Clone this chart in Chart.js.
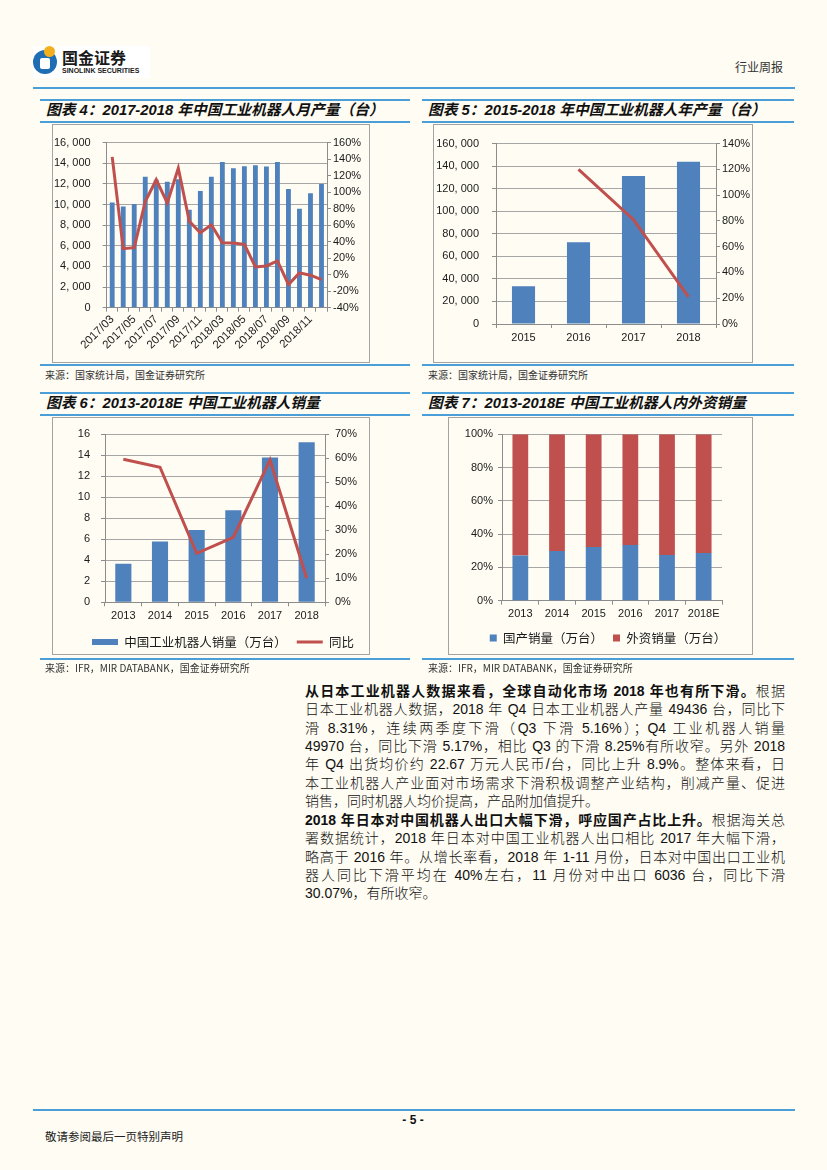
<!DOCTYPE html>
<html><head><meta charset="utf-8">
<script src="https://cdn.jsdelivr.net/npm/chart.js@4.4.0/dist/chart.umd.min.js"></script>
<style>
html,body{margin:0;padding:0;}
body{width:827px;height:1170px;background:#fefcf3;position:relative;overflow:hidden;font-family:'Liberation Sans','Noto Sans CJK SC',sans-serif;color:#111;}
.abs{position:absolute;}
.hl{position:absolute;height:2px;background:#4a9fd8;}
.title{position:absolute;font-family:'Liberation Sans','Noto Sans CJK SC',sans-serif;font-weight:bold;font-style:italic;font-size:14.75px;line-height:18px;white-space:nowrap;color:#111;}
.box{position:absolute;border:1px solid #a3a3a3;box-sizing:border-box;}
.src{position:absolute;font-size:10px;line-height:12px;color:#333;white-space:nowrap;font-family:'Noto Sans CJK SC',sans-serif;}
canvas{position:absolute;}
.ln{position:absolute;left:305px;width:480px;font-size:14px;line-height:18px;height:18px;text-align:justify;text-align-last:justify;font-family:'Liberation Sans','Noto Sans CJK SC',sans-serif;font-weight:300;color:#111;}
.ln.last{text-align-last:left;}
.ln b{font-weight:bold;}
</style></head>
<body>
<!-- header -->
<div class="abs" style="left:33px;top:46px;width:117px;height:32px;background:#fff;"></div>
<div class="abs" style="left:33px;top:50px;width:24px;height:24px;border-radius:50%;background:#1f6db3;"></div>
<div class="abs" style="left:40px;top:58px;width:10px;height:11px;border-radius:2px;background:#fff;"></div>
<div class="abs" style="left:44px;top:46px;width:11px;height:11px;border-radius:50%;background:#f2b01e;"></div>
<div class="abs" style="left:62px;top:48px;font-size:16px;line-height:18px;font-weight:bold;font-family:'Noto Sans CJK SC';color:#1a1a1a;">国金证券</div>
<div class="abs" style="left:62px;top:67px;font-size:7px;line-height:8px;font-weight:bold;color:#1a1a1a;">SINOLINK SECURITIES</div>
<div class="abs" style="left:735px;top:59px;font-size:12px;line-height:16px;font-family:'Noto Sans CJK SC';color:#333;">行业周报</div>
<div class="hl" style="left:33px;top:87px;width:762px;"></div>

<!-- row 1 titles -->
<div class="hl" style="left:40px;top:99px;width:370px;"></div>
<div class="hl" style="left:40px;top:121px;width:370px;"></div>
<div class="title" style="left:46px;top:101px;">图表 4：2017-2018 年中国工业机器人月产量（台）</div>
<div class="hl" style="left:422px;top:99px;width:372px;"></div>
<div class="hl" style="left:422px;top:121px;width:372px;"></div>
<div class="title" style="left:428px;top:101px;">图表 5：2015-2018 年中国工业机器人年产量（台）</div>

<div class="box" style="left:52px;top:124px;width:318px;height:239px;"></div>
<div class="box" style="left:433px;top:124px;width:320px;height:239px;"></div>
<canvas id="c4" width="318" height="239" style="left:52px;top:124px;"></canvas>
<canvas id="c5" width="320" height="239" style="left:433px;top:124px;"></canvas>

<div class="hl" style="left:40px;top:364px;width:370px;"></div>
<div class="hl" style="left:422px;top:364px;width:372px;"></div>
<div class="src" style="left:45px;top:369px;">来源：国家统计局，国金证券研究所</div>
<div class="src" style="left:428px;top:369px;">来源：国家统计局，国金证券研究所</div>

<!-- row 2 titles -->
<div class="hl" style="left:40px;top:392px;width:370px;"></div>
<div class="hl" style="left:40px;top:414px;width:370px;"></div>
<div class="title" style="left:46px;top:394px;">图表 6：2013-2018E 中国工业机器人销量</div>
<div class="hl" style="left:422px;top:392px;width:372px;"></div>
<div class="hl" style="left:422px;top:414px;width:372px;"></div>
<div class="title" style="left:428px;top:394px;">图表 7：2013-2018E 中国工业机器人内外资销量</div>

<div class="box" style="left:52px;top:417px;width:318px;height:238px;"></div>
<div class="box" style="left:448px;top:417px;width:305px;height:238px;"></div>
<canvas id="c6" width="318" height="250" style="left:52px;top:416px;"></canvas>
<canvas id="c7" width="305" height="250" style="left:448px;top:416px;"></canvas>

<div class="hl" style="left:40px;top:658px;width:370px;"></div>
<div class="hl" style="left:422px;top:658px;width:372px;"></div>
<div class="src" style="left:45px;top:662px;">来源：IFR，MIR DATABANK，国金证券研究所</div>
<div class="src" style="left:428px;top:662px;">来源：IFR，MIR DATABANK，国金证券研究所</div>

<!-- body text -->
<div class="ln" style="top:682px;"><b>从日本工业机器人数据来看，全球自动化市场 2018 年也有所下滑。</b>根据</div>
<div class="ln" style="top:700.3px;">日本工业机器人数据，2018 年 Q4 日本工业机器人产量 49436 台，同比下</div>
<div class="ln" style="top:718.6px;">滑 8.31%，连续两季度下滑（Q3 下滑 5.16%）；Q4 工业机器人销量</div>
<div class="ln" style="top:736.9px;">49970 台，同比下滑 5.17%，相比 Q3 的下滑 8.25%有所收窄。另外 2018</div>
<div class="ln" style="top:755.2px;">年 Q4 出货均价约 22.67 万元人民币/台，同比上升 8.9%。整体来看，日</div>
<div class="ln" style="top:773.5px;">本工业机器人产业面对市场需求下滑积极调整产业结构，削减产量、促进</div>
<div class="ln last" style="top:791.8px;">销售，同时机器人均价提高，产品附加值提升。</div>

<div class="ln" style="top:811px;"><b>2018 年日本对中国机器人出口大幅下滑，呼应国产占比上升。</b>根据海关总</div>
<div class="ln" style="top:829.3px;">署数据统计，2018 年日本对中国工业机器人出口相比 2017 年大幅下滑，</div>
<div class="ln" style="top:847.6px;">略高于 2016 年。从增长率看，2018 年 1-11 月份，日本对中国出口工业机</div>
<div class="ln" style="top:865.9px;">器人同比下滑平均在 40%左右，11 月份对中出口 6036 台，同比下滑</div>
<div class="ln last" style="top:884.2px;">30.07%，有所收窄。</div>

<!-- footer -->
<div class="hl" style="left:33px;top:1109px;width:762px;"></div>
<div class="abs" style="left:383px;top:1113px;width:60px;text-align:center;font-size:12px;line-height:14px;font-weight:bold;">- 5 -</div>
<div class="abs" style="left:45px;top:1129px;font-size:11.5px;line-height:14px;font-family:'Noto Sans CJK SC';color:#222;">敬请参阅最后一页特别声明</div>

<script>
// ---------- data ----------
const monthLabels = ['2017/03','2017/04','2017/05','2017/06','2017/07','2017/08','2017/09','2017/10','2017/11','2017/12',
                     '2018/03','2018/04','2018/05','2018/06','2018/07','2018/08','2018/09','2018/10','2018/11','2018/12'];
const monthOutput = [10200, 9800, 10060, 12690, 12400, 12200, 12450, 9500, 11300, 12690,
                     14130, 13520, 13710, 13810, 13690, 14130, 11500, 9600, 11080, 11980];
const monthYoY = [142.7, 31.5, 32.7, 88.5, 115, 86.9, 129, 64.8, 50.8, 60.4,
                  38.7, 38.3, 36.7, 9.4, 10.6, 16.6, -11.9, 2.2, -0.6, -5.9];

const yearLabels5 = ['2015','2016','2017','2018'];
const yearOutput = [33500, 72600, 131300, 143800];
const yearYoY = [null, 120, 81, 21];

const yearLabels6 = ['2013','2014','2015','2016','2017','2018'];
const salesVolume = [3.68, 5.78, 6.89, 8.76, 13.78, 15.24];
const salesYoY = [59.6, 56.3, 20.4, 27.1, 59.3, 10.0];

const yearLabels7 = ['2013','2014','2015','2016','2017','2018E'];
const domesticShare = [27.1, 29.9, 32.3, 33.5, 27.5, 28.7];
const foreignShare = [72.9, 70.1, 67.7, 66.5, 72.5, 71.3];

// ---------- styles ----------
const BLUE = '#4f81bd', RED = '#c0504d', GRID = '#a6a6a6', AXIS = '#8c8c8c', TXT = '#1a1a1a';
const FONT = "'Liberation Sans','Noto Sans CJK SC',sans-serif";
const CJK = "'Noto Sans CJK SC','Liberation Sans',sans-serif";
Chart.defaults.animation = false;
Chart.defaults.font.family = FONT;
Chart.defaults.color = TXT;
const tf = {family: FONT, size: 11};
const fixW = w => s => { s.width = w; };
const fixH = h => s => { s.height = h; };
const comma = v => Number(v).toLocaleString('en-US').replace(/,/g, ', ');
const pct = v => v + '%';

function xAxis(h, extraTicks) {
  return {
    grid: {drawOnChartArea: false, drawTicks: true, tickLength: 4, color: AXIS, offset: true},
    border: {color: AXIS},
    ticks: Object.assign({font: tf, color: TXT, padding: 3, autoSkip: false, maxRotation: 0, minRotation: 0}, extraTicks || {}),
    afterFit: fixH(h)
  };
}
function leftAxis(min, max, step, cb, w, pad) {
  return {
    position: 'left', min, max,
    ticks: {stepSize: step, callback: cb, font: tf, color: TXT, padding: pad},
    grid: {color: GRID, tickLength: 4, drawTicks: true, tickColor: AXIS},
    border: {color: AXIS},
    afterFit: fixW(w)
  };
}
function rightAxis(min, max, step, cb, w, pad) {
  return {
    position: 'right', min, max,
    ticks: {stepSize: step, callback: cb, font: tf, color: TXT, padding: pad},
    grid: {drawOnChartArea: false, tickLength: 4, drawTicks: true, color: AXIS},
    border: {color: AXIS},
    afterFit: fixW(w)
  };
}
const common = {responsive: false, animation: false};

// ---------- chart 4 ----------
new Chart(document.getElementById('c4'), {
  data: {
    labels: monthLabels,
    datasets: [
      {type: 'bar', data: monthOutput, backgroundColor: BLUE, borderWidth: 0, yAxisID: 'y', order: 2,
       categoryPercentage: 1, barPercentage: 0.44},
      {type: 'line', data: monthYoY, borderColor: RED, borderWidth: 3, pointRadius: 0, tension: 0, yAxisID: 'y1', order: 1}
    ]
  },
  options: Object.assign({}, common, {
    layout: {padding: {top: 17.7, left: 0, right: 0, bottom: 0}},
    plugins: {legend: {display: false}, tooltip: {enabled: false}},
    scales: {
      x: xAxis(55.3, {maxRotation: 45, minRotation: 45, padding: 1, font: {family: FONT, size: 11.5},
           callback: function(v, i) { return i % 2 === 0 ? this.getLabelForValue(v) : ''; }}),
      y: leftAxis(0, 16000, 2000, comma, 54.7, 12),
      y1: rightAxis(-40, 160, 20, pct, 43, 2)
    }
  })
});

// ---------- chart 5 ----------
new Chart(document.getElementById('c5'), {
  data: {
    labels: yearLabels5,
    datasets: [
      {type: 'bar', data: yearOutput, backgroundColor: BLUE, borderWidth: 0, yAxisID: 'y', order: 2,
       categoryPercentage: 1, barPercentage: 0.42},
      {type: 'line', data: yearYoY, borderColor: RED, borderWidth: 3, pointRadius: 0, tension: 0, yAxisID: 'y1', order: 1}
    ]
  },
  options: Object.assign({}, common, {
    layout: {padding: {top: 17.7, left: 0, right: 0, bottom: 0}},
    plugins: {legend: {display: false}, tooltip: {enabled: false}},
    scales: {
      x: xAxis(39),
      y: leftAxis(0, 160000, 20000, comma, 63, 13),
      y1: rightAxis(0, 140, 20, pct, 37, 2)
    }
  })
});

// ---------- chart 6 ----------
new Chart(document.getElementById('c6'), {
  data: {
    labels: yearLabels6,
    datasets: [
      {type: 'bar', label: '中国工业机器人销量（万台）', data: salesVolume, backgroundColor: BLUE, borderWidth: 0, yAxisID: 'y', order: 2,
       categoryPercentage: 1, barPercentage: 0.44},
      {type: 'line', label: '同比', data: salesYoY, borderColor: RED, borderWidth: 3, pointRadius: 0, tension: 0, yAxisID: 'y1', order: 1}
    ]
  },
  options: Object.assign({}, common, {
    layout: {padding: {top: 18.3, left: 24, right: 0, bottom: 7.75}},
    plugins: {
      tooltip: {enabled: false},
      legend: {
        position: 'bottom',
        labels: {
          font: {family: CJK, size: 12.5}, color: TXT, padding: 10,
          usePointStyle: true, pointStyleWidth: 26, boxHeight: 6,
          generateLabels: (chart) => [
            {text: chart.data.datasets[0].label, fillStyle: BLUE, strokeStyle: BLUE, lineWidth: 0, pointStyle: 'rect', hidden: false, datasetIndex: 0, fontColor: TXT},
            {text: chart.data.datasets[1].label, fillStyle: RED, strokeStyle: RED, lineWidth: 3, pointStyle: 'line', hidden: false, datasetIndex: 1, fontColor: TXT}
          ]
        }
      }
    },
    scales: {
      x: xAxis(23.45),
      y: leftAxis(0, 16, 2, v => v, 29, 11),
      y1: rightAxis(0, 70, 10, pct, 45, 6)
    }
  })
});

// ---------- chart 7 ----------
new Chart(document.getElementById('c7'), {
  type: 'bar',
  data: {
    labels: yearLabels7,
    datasets: [
      {label: '国产销量（万台）', data: domesticShare, backgroundColor: BLUE, borderWidth: 0, categoryPercentage: 1, barPercentage: 0.43},
      {label: '外资销量（万台）', data: foreignShare, backgroundColor: RED, borderWidth: 0, categoryPercentage: 1, barPercentage: 0.43}
    ]
  },
  options: Object.assign({}, common, {
    layout: {padding: {top: 18.3, left: 15, right: 0, bottom: 11.75}},
    plugins: {
      tooltip: {enabled: false},
      legend: {
        position: 'bottom',
        labels: {font: {family: CJK, size: 12.5}, color: TXT, padding: 10, boxWidth: 7, boxHeight: 7}
      }
    },
    scales: {
      x: Object.assign(xAxis(21.05), {stacked: true}),
      y: Object.assign(leftAxis(0, 100, 20, pct, 39, 5), {stacked: true}),
      yPad: {position: 'right', min: 0, max: 1, display: true,
             ticks: {display: false}, grid: {display: false}, border: {display: false},
             afterFit: fixW(31)}
    }
  })
});
</script>
</body></html>
